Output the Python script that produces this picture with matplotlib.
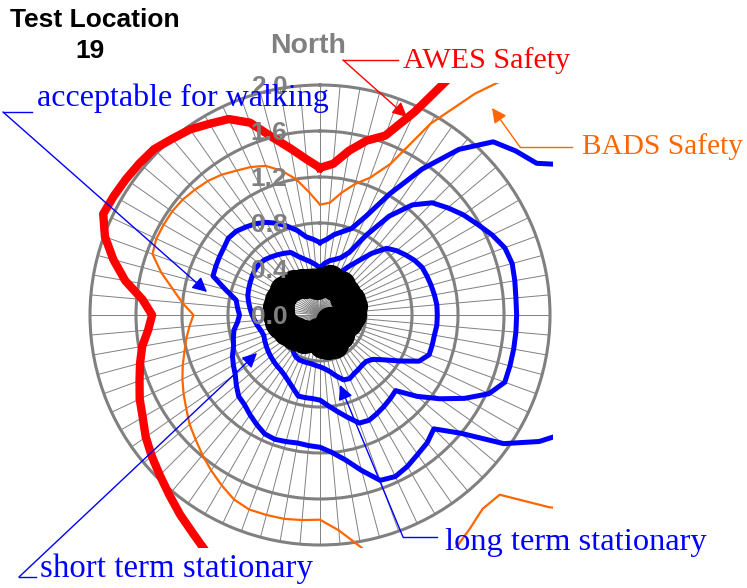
import numpy as np
import matplotlib
matplotlib.use("Agg")
import matplotlib.pyplot as plt
from matplotlib.lines import Line2D
from matplotlib.text import Annotation
from matplotlib.transforms import Bbox, TransformedBbox

W, H = 747, 588

# wind directions, degrees clockwise from north
directions = np.arange(0, 360, 5)

awes_safety = [
    1.28, 1.32, 1.45, 1.57, 1.66, 1.95, 2.55, 3.00, 3.20, 3.30, 3.30, 3.30,
    3.30, 3.30, 3.30, 3.30, 3.30, 3.30, 3.30, 3.30, 3.30, 3.30, 3.30, 3.30,
    3.30, 3.30, 3.30, 3.30, 3.30, 3.30, 3.30, 3.30, 3.20, 3.10, 3.00, 2.90,
    2.80, 2.70, 2.60, 2.50, 2.40, 2.30, 2.20, 2.12, 2.04, 1.97, 1.91, 1.85,
    1.78, 1.73, 1.67, 1.62, 1.57, 1.50, 1.46, 1.55, 1.72, 1.86, 1.99, 2.08,
    2.07, 2.06, 2.05, 2.04, 2.00, 1.97, 1.92, 1.88, 1.78, 1.60, 1.47, 1.36,
]
bads_safety = [
    0.96, 0.98, 1.08, 1.18, 1.27, 1.45, 1.92, 2.35, 2.80, 3.20, 3.30, 3.30,
    3.30, 3.30, 3.30, 3.30, 3.30, 3.30, 3.30, 3.30, 3.30, 3.30, 3.30, 3.30,
    3.30, 3.00, 2.60, 2.21, 2.20, 2.27, 2.35, 2.45, 2.50, 2.30, 2.05, 1.88,
    1.78, 1.79, 1.80, 1.80, 1.80, 1.77, 1.71, 1.65, 1.59, 1.53, 1.48, 1.42,
    1.37, 1.32, 1.27, 1.22, 1.18, 1.14, 1.10, 1.20, 1.30, 1.43, 1.55, 1.57,
    1.57, 1.57, 1.56, 1.54, 1.52, 1.49, 1.45, 1.42, 1.38, 1.30, 1.20, 1.07,
]
walking = [
    0.63, 0.66, 0.71, 0.75, 0.80, 0.95, 1.22, 1.55, 1.88, 2.13, 2.22, 2.30,
    2.60, 3.00, 3.20, 3.20, 3.20, 3.20, 3.20, 3.20, 3.20, 3.20, 2.80, 2.40,
    2.20, 1.95, 1.60, 1.40, 1.45, 1.48, 1.52, 1.55, 1.53, 1.40, 1.28, 1.20,
    1.15, 1.14, 1.13, 1.14, 1.15, 1.14, 1.10, 1.06, 1.02, 1.00, 0.95, 0.90,
    0.87, 0.84, 0.80, 0.78, 0.76, 0.72, 0.70, 0.72, 0.74, 0.85, 0.99, 1.00,
    1.01, 1.02, 1.04, 1.03, 1.00, 0.97, 0.93, 0.88, 0.82, 0.76, 0.69, 0.66,
]
short_term = [
    0.41, 0.45, 0.48, 0.50, 0.53, 0.60, 0.80, 1.05, 1.25, 1.38, 1.45, 1.52,
    1.58, 1.65, 1.71, 1.73, 1.72, 1.71, 1.71, 1.71, 1.71, 1.71, 1.71, 1.62,
    1.45, 1.27, 1.10, 0.93, 0.95, 0.97, 0.99, 1.01, 1.00, 0.92, 0.85, 0.79,
    0.74, 0.73, 0.73, 0.73, 0.68, 0.64, 0.61, 0.59, 0.58, 0.57, 0.56, 0.55,
    0.54, 0.53, 0.52, 0.53, 0.55, 0.57, 0.59, 0.61, 0.63, 0.65, 0.66, 0.67,
    0.68, 0.69, 0.69, 0.68, 0.66, 0.64, 0.62, 0.60, 0.54, 0.50, 0.47, 0.44,
]
long_term = [
    0.27, 0.27, 0.28, 0.30, 0.33, 0.40, 0.48, 0.57, 0.70, 0.82, 0.87, 0.91,
    0.95, 0.98, 0.99, 1.00, 1.01, 1.02, 1.02, 1.02, 1.01, 1.01, 1.01, 0.95,
    0.80, 0.68, 0.60, 0.57, 0.57, 0.58, 0.59, 0.61, 0.60, 0.55, 0.50, 0.47,
    0.45, 0.44, 0.43, 0.43, 0.43, 0.43, 0.42, 0.40, 0.36, 0.32, 0.28, 0.28,
    0.28, 0.28, 0.28, 0.28, 0.28, 0.28, 0.28, 0.28, 0.28, 0.28, 0.28, 0.28,
    0.28, 0.28, 0.28, 0.28, 0.28, 0.28, 0.28, 0.28, 0.28, 0.27, 0.27, 0.27,
]
measured = [
    0.28, 0.30, 0.30, 0.32, 0.30, 0.28, 0.30, 0.32, 0.30, 0.28, 0.30, 0.26,
    0.28, 0.30, 0.28, 0.30, 0.27, 0.25, 0.28, 0.26, 0.22, 0.25, 0.20, 0.15,
    0.10, 0.18, 0.22, 0.25, 0.20, 0.22, 0.25, 0.28, 0.25, 0.27, 0.22, 0.25,
    0.20, 0.15, 0.20, 0.18, 0.20, 0.22, 0.20, 0.25, 0.22, 0.25, 0.28, 0.25,
    0.30, 0.32, 0.30, 0.35, 0.36, 0.34, 0.37, 0.35, 0.38, 0.36, 0.38, 0.37,
    0.36, 0.38, 0.36, 0.34, 0.35, 0.33, 0.32, 0.30, 0.30, 0.29, 0.27, 0.26,
]

ring_values = [0.0, 0.4, 0.8, 1.2, 1.6, 2.0]

GRAY = "#808080"
RED = "#ff0000"
ORANGE = "#ff6600"
BLUE = "#0000ff"
SANS = "Liberation Sans"
SERIF = "Liberation Serif"


def fig_xy(x, y):
    """pixel position (from top-left) -> figure fraction"""
    return (x / W, 1 - y / H)


fig = plt.figure(figsize=(W / 100, H / 100), dpi=100, facecolor="white")
ax = fig.add_axes([90 / W, 1 - 545 / H, 460 / W, 460 / H], projection="polar")
ax.set_theta_zero_location("N")
ax.set_theta_direction(-1)
ax.set_ylim(0, ring_values[-1])
ax.set_xticks(np.deg2rad(directions))
ax.set_xticklabels([])
ax.set_yticks(ring_values[1:-1])
ax.set_yticklabels([])
ax.tick_params(length=0)
ax.grid(axis="x", color=GRAY, lw=0.7)
ax.grid(axis="y", color=GRAY, lw=2.2)
ax.spines["polar"].set_color(GRAY)
ax.spines["polar"].set_linewidth(2.2)

# series run past the outer ring, so clip them to the plot area rectangle
plot_area = TransformedBbox(
    Bbox.from_extents(88 / W, 1 - 548 / H, 553 / W, 1 - 83 / H), fig.transFigure
)


def radar_line(values, **kw):
    th = np.deg2rad(np.append(directions, 360))
    r = np.append(values, values[0])
    ln, = ax.plot(th, r, solid_joinstyle="round", **kw)
    ln.set_clip_path(None)
    ln.set_clip_box(plot_area)
    return ln


radar_line(awes_safety, color=RED, lw=6, zorder=3)
radar_line(bads_safety, color=ORANGE, lw=1.6, zorder=3)
radar_line(walking, color=BLUE, lw=3.6, zorder=3)
radar_line(short_term, color=BLUE, lw=3.6, zorder=3)
radar_line(long_term, color=BLUE, lw=3.6, zorder=3)
radar_line(measured, color="black", lw=8, marker="o", ms=20, zorder=4)

# radial scale labels, left of the north spoke
for v in ring_values:
    ax.annotate(f"{v:.1f}", xy=(0, v), xytext=(-51, -9.5), textcoords="offset pixels",
                ha="center", va="baseline", fontsize=19, fontweight="bold",
                color=GRAY, family=SANS, zorder=6, annotation_clip=False)

ax.annotate("North", xy=(0, ring_values[-1]), xytext=(-12, 32), textcoords="offset pixels",
            ha="center", va="baseline", fontsize=20.5, fontweight="bold",
            color=GRAY, family=SANS, annotation_clip=False)

fig.text(*fig_xy(95, 27), "Test Location", ha="center", va="baseline",
         fontsize=19, fontweight="bold", family=SANS)
fig.text(*fig_xy(90, 58), "19", ha="center", va="baseline",
         fontsize=19, fontweight="bold", family=SANS)


def leader(text, text_pos, size, corner, stub_end, tip, color):
    fig.add_artist(Line2D([corner[0] / W, stub_end[0] / W],
                          [1 - corner[1] / H, 1 - stub_end[1] / H],
                          transform=fig.transFigure, color=color, lw=1))
    arrow = Annotation("", xy=fig_xy(*tip), xycoords="figure fraction",
                       xytext=fig_xy(*corner), textcoords="figure fraction",
                       arrowprops=dict(arrowstyle="-|>", color=color, lw=1,
                                       mutation_scale=22, shrinkA=0, shrinkB=0))
    fig.add_artist(arrow)
    fig.text(*fig_xy(*text_pos), text, ha="left", va="baseline",
             fontsize=size, color=color, family=SERIF)


leader("AWES Safety", (403, 68), 21.7, (343, 60), (398, 60), (407, 117), RED)
leader("BADS Safety", (582, 154), 21.2, (520, 147), (572, 147), (492, 108), ORANGE)
leader("acceptable for walking", (37, 106), 23, (3, 112), (32, 112), (207, 292), BLUE)
leader("long term stationary", (445, 550), 23.4, (403, 537), (437, 537), (340, 385), BLUE)
leader("short term stationary", (40, 577), 23.7, (19, 577), (36, 577), (257, 353), BLUE)

fig.savefig("out.png", dpi=100, facecolor="white")
